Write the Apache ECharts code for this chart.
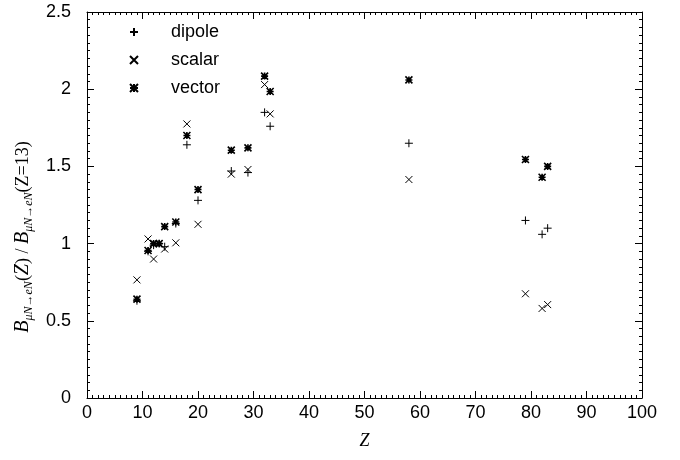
<!DOCTYPE html>
<html>
<head>
<meta charset="utf-8">
<script src="https://cdn.jsdelivr.net/npm/echarts@6/dist/echarts.min.js"></script>
<style>html,body{margin:0;padding:0;background:#fff}#c{width:680px;height:460px}</style>
</head>
<body>
<div id="c"></div>
<script>
const Z = [9, 11, 12, 13, 14, 16, 18, 20, 26, 29, 32, 33, 58, 79, 82, 83];
const dipole = [0.63, 0.95, 0.99, 1.00, 0.98, 1.13, 1.64, 1.28, 1.47, 1.46, 1.85, 1.76, 1.65, 1.15, 1.06, 1.10];
const scalar = [0.765, 1.03, 0.90, 1.00, 0.965, 1.005, 1.775, 1.125, 1.45, 1.48, 2.03, 1.84, 1.415, 0.675, 0.58, 0.605];
const vector = [0.64, 0.955, 1.00, 1.00, 1.11, 1.14, 1.70, 1.35, 1.605, 1.62, 2.085, 1.985, 2.06, 1.545, 1.43, 1.50];
const xTicks = [0, 10, 20, 30, 40, 50, 60, 70, 80, 90, 100];
const yTicks = [0, 0.5, 1, 1.5, 2, 2.5];

const PLUS = 'path://M0,5L10,5M5,0L5,10';
const CROSS = 'path://M0,0L10,10M10,0L0,10';
const STAR = 'path://M0,5L10,5M5,0L5,10M0,0L10,10M10,0L0,10';

const pairs = arr => Z.map((z, i) => [z, arr[i]]);
const chart = echarts.init(document.getElementById('c'));

const baseX = {
  type: 'value', min: xTicks[0], max: xTicks[xTicks.length - 1], interval: 10,
  axisLine: { show: true, onZero: false, lineStyle: { color: '#000', width: 1 } },
  axisTick: { show: true, inside: true, length: 7, lineStyle: { color: '#000' } },
  minorTick: { show: true, splitNumber: 10, length: 3, lineStyle: { color: '#000' } },
  splitLine: { show: false }
};
const baseY = {
  type: 'value', min: yTicks[0], max: yTicks[yTicks.length - 1], interval: 0.5,
  axisLine: { show: true, onZero: false, lineStyle: { color: '#000', width: 1 } },
  axisTick: { show: true, inside: true, length: 7, lineStyle: { color: '#000' } },
  minorTick: { show: true, splitNumber: 10, length: 3, lineStyle: { color: '#000' } },
  splitLine: { show: false }
};

const lblFont = { color: '#000', fontFamily: 'Liberation Sans, Arial, sans-serif', fontSize: 18 };
const serif = 'Liberation Serif, Times New Roman, serif';

function mk(name, arr, sym, bw, size) {
  return {
    name: name, type: 'scatter', data: pairs(arr), symbol: sym, symbolSize: size,
    symbolKeepAspect: true,
    itemStyle: { color: 'rgba(0,0,0,0)', borderColor: '#000', borderWidth: bw, opacity: 1 },
    emphasis: { disabled: true }
  };
}

chart.setOption({
  animation: false,
  backgroundColor: '#fff',
  grid: { left: 87, right: 38, top: 12, bottom: 62 },
  legend: {
    orient: 'vertical', left: 124, top: 18, itemGap: 10,
    itemWidth: 8, itemHeight: 8,
    textStyle: Object.assign({}, lblFont, { padding: [0, 0, 0, 28] }),
    data: [
      { name: 'dipole', icon: PLUS },
      { name: 'scalar', icon: CROSS },
      { name: 'vector', icon: STAR }
    ]
  },
  xAxis: [
    Object.assign({}, baseX, {
      position: 'bottom',
      axisLabel: Object.assign({}, lblFont, { margin: 6 }),
      name: 'Z', nameLocation: 'middle', nameGap: 34,
      nameTextStyle: { color: '#000', fontFamily: serif, fontStyle: 'italic', fontSize: 18 }
    }),
    Object.assign({}, baseX, { position: 'top', axisLabel: { show: false } })
  ],
  yAxis: [
    Object.assign({}, baseY, {
      position: 'left',
      axisLabel: Object.assign({}, lblFont, { margin: 16 }),
      name: '{b|B}{s|μN→eN}{n|(}{b|Z}{n|) / }{b|B}{s|μN→eN}{n|(Z=13)}',
      nameLocation: 'middle', nameGap: 52, nameRotate: 90,
      nameTextStyle: {
        color: '#000', fontFamily: serif, fontSize: 18,
        padding: [0, 64, 0, 0],
        rich: {
          b: { fontFamily: serif, fontStyle: 'italic', fontSize: 20, color: '#000', lineHeight: 24, verticalAlign: 'middle' },
          n: { fontFamily: serif, fontSize: 18, color: '#000', lineHeight: 24, verticalAlign: 'middle' },
          s: { fontFamily: serif, fontStyle: 'italic', fontSize: 12, color: '#000', lineHeight: 13, verticalAlign: 'bottom', padding: [9, 0, 0, 0] }
        }
      }
    }),
    Object.assign({}, baseY, { position: 'right', axisLabel: { show: false } })
  ],
  series: [
    mk('dipole', dipole, PLUS, 1, 8),
    mk('scalar', scalar, CROSS, 1, 7),
    mk('vector', vector, STAR, 1.6, 7)
  ]
});
</script>
</body>
</html>
